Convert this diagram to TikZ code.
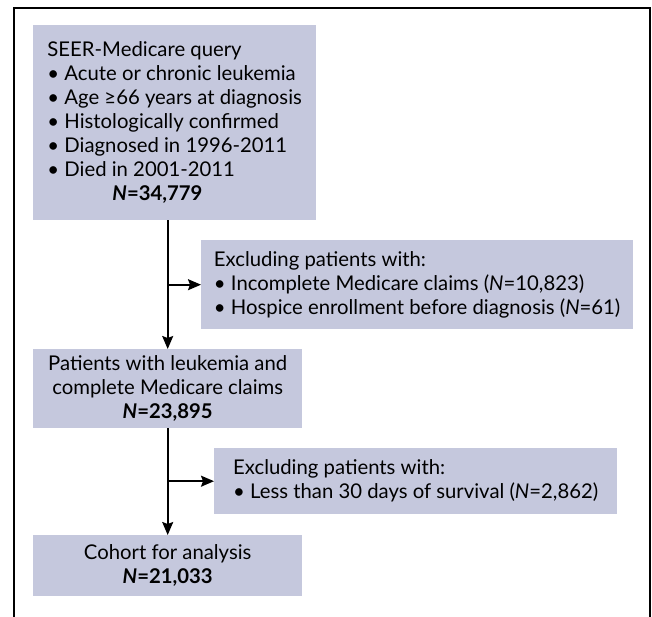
\documentclass[tikz,border=0pt]{standalone}
\usepackage{fontspec}
\setmainfont{Lato}
\usetikzlibrary{arrows.meta}

\definecolor{boxfill}{RGB}{197,200,221}

\tikzset{
  flowbox/.style={fill=boxfill, anchor=north west, inner ysep=0pt,
    font=\fontsize{20.3}{24}\selectfont},
  flowarrow/.style={-{Stealth[length=13pt,width=11pt,inset=2pt]}, line width=1.6pt},
}

\begin{document}
\begin{tikzpicture}[x=1pt,y=-1pt]
 \useasboundingbox (0,0) rectangle (652,617);

 % outer frame, open at the bottom
 \draw [line width=2pt] (14,617) -- (14,8) -- (650,8) -- (650,617);

 % query box
 \node [flowbox, inner xsep=0pt, minimum width=283pt, minimum height=195pt, align=left]
   (query) at (33,25) {SEER-Medicare query\\
   • Acute or chronic leukemia\\
   • Age ≥66 years at diagnosis\\
   • Histologically confirmed\\
   • Diagnosed in 1996-2011\\
   • Died in 2001-2011\\
   \hspace*{65pt}\textbf{\textit{N}=34,779}};

 % first exclusion box
 \node [flowbox, inner xsep=0pt, minimum width=432pt, minimum height=89pt, align=left]
   (excl1) at (201,240) {Excluding patients with:\\
   • Incomplete Medicare claims (\textit{N}=10,823)\\
   • Hospice enrollment before diagnosis (\textit{N}=61)};

 % patients with complete claims
 \node [flowbox, inner xsep=0pt, minimum width=269pt, minimum height=79pt, align=center]
   (leuk) at (33,349) {Patients with leukemia and\\
   complete Medicare claims\\
   \textbf{\textit{N}=23,895}};

 % second exclusion box
 \node [flowbox, inner xsep=0pt, minimum width=403pt, minimum height=66pt, align=left]
   (excl2) at (214,448) {Excluding patients with:\\
   • Less than 30 days of survival (\textit{N}=2,862)};

 % final cohort
 \node [flowbox, inner xsep=0pt, minimum width=269pt, minimum height=61pt, align=center]
   (cohort) at (33,535) {Cohort for analysis\\
   \textbf{\textit{N}=21,033}};

 % trunk and branches
 \draw [flowarrow] (query.south -| leuk.north) -- (leuk.north);
 \draw [flowarrow] (excl1.west -| leuk.north) -- (excl1.west);
 \draw [flowarrow] (leuk.south) -- (cohort.north);
 \draw [flowarrow] (excl2.west -| leuk.north) -- (excl2.west);

\end{tikzpicture}
\end{document}
